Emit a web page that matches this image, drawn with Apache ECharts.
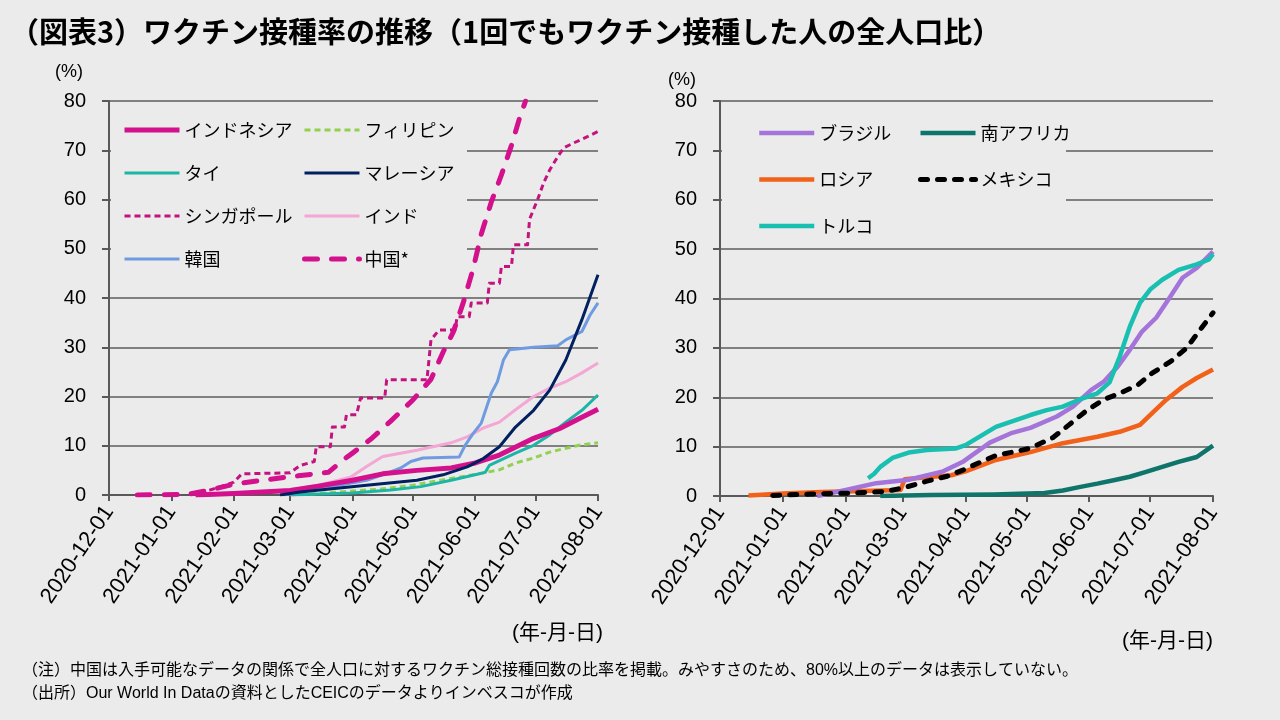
<!DOCTYPE html>
<html><head><meta charset="utf-8">
<script src="https://cdn.jsdelivr.net/npm/echarts@6/dist/echarts.min.js"></script>
<style>html,body{margin:0;padding:0;background:#EBEBEB;}#c{width:1280px;height:720px;}</style>
</head><body><div id="c"></div>
<script>
// ---------- data (values in % of population) ----------
const xStart = '2020-12-01';
const xEnd = '2021-08-01';
const yMax = 80, yStep = 10;

const indonesia = [['2021-01-13',0],['2021-02-01',0.3],['2021-03-01',0.9],['2021-03-15',1.8],['2021-04-01',3.0],['2021-04-16',4.3],['2021-05-03',5.0],['2021-05-20',5.5],['2021-06-01',6.5],['2021-06-13',8.1],['2021-06-30',11.5],['2021-07-13',13.5],['2021-07-23',15.6],['2021-08-01',17.4]];
const philippines = [['2021-03-01',0],['2021-03-15',0.3],['2021-04-01',0.8],['2021-04-15',1.2],['2021-05-01',2.0],['2021-05-15',3.0],['2021-06-01',4.2],['2021-06-13',5.1],['2021-06-21',6.5],['2021-06-30',7.5],['2021-07-08',8.7],['2021-07-16',9.5],['2021-07-24',10.2],['2021-08-01',10.6]];
const thailand = [['2021-03-01',0],['2021-04-01',0.4],['2021-04-20',1.0],['2021-05-05',1.7],['2021-05-20',3.0],['2021-06-02',4.2],['2021-06-06',4.6],['2021-06-08',6.0],['2021-06-21',8.5],['2021-06-30',10.1],['2021-07-08',12.2],['2021-07-16',14.8],['2021-07-24',17.2],['2021-08-01',20.3]];
const malaysia = [['2021-02-24',0],['2021-03-06',0.6],['2021-04-08',2.0],['2021-05-03',3.0],['2021-05-16',4.1],['2021-05-28',5.7],['2021-06-05',7.4],['2021-06-13',9.8],['2021-06-21',13.8],['2021-06-30',17.2],['2021-07-08',21.3],['2021-07-16',27.4],['2021-07-24',35.6],['2021-08-01',44.7]];
const singapore = [['2021-01-10',0.3],['2021-01-20',1.0],['2021-01-28',2.0],['2021-02-01',2.6],['2021-02-05',4.3],['2021-03-01',4.5],['2021-03-06',6.0],['2021-03-13',6.8],['2021-03-14',9.8],['2021-03-21',9.8],['2021-03-22',13.8],['2021-03-28',13.8],['2021-03-29',16.3],['2021-04-03',16.3],['2021-04-05',19.7],['2021-04-17',19.7],['2021-04-18',23.4],['2021-05-08',23.4],['2021-05-10',31.5],['2021-05-14',33.5],['2021-05-22',33.5],['2021-05-23',36.2],['2021-05-29',36.2],['2021-05-30',39.0],['2021-06-07',39.0],['2021-06-08',43.0],['2021-06-13',43.0],['2021-06-14',46.4],['2021-06-19',46.4],['2021-06-20',50.8],['2021-06-27',50.8],['2021-06-28',56.0],['2021-07-02',60.0],['2021-07-05',63.4],['2021-07-08',66.0],['2021-07-12',68.7],['2021-07-15',70.5],['2021-07-20',71.5],['2021-07-27',72.8],['2021-08-01',73.8]];
const india = [['2021-01-16',0],['2021-02-01',0.3],['2021-03-01',1.0],['2021-03-15',2.0],['2021-03-31',3.6],['2021-04-08',5.8],['2021-04-16',7.8],['2021-05-03',9.1],['2021-05-20',10.6],['2021-05-28',11.8],['2021-06-05',13.6],['2021-06-13',14.8],['2021-06-21',17.3],['2021-06-30',20.0],['2021-07-08',21.7],['2021-07-16',23.0],['2021-07-24',24.8],['2021-08-01',26.8]];
const korea = [['2021-02-26',0],['2021-03-08',0.8],['2021-03-22',1.7],['2021-04-08',3.0],['2021-04-18',4.4],['2021-04-25',5.5],['2021-04-30',6.8],['2021-05-06',7.5],['2021-05-24',7.7],['2021-05-27',10.1],['2021-05-31',12.5],['2021-06-04',14.6],['2021-06-09',20.7],['2021-06-12',23.0],['2021-06-15',27.4],['2021-06-18',29.5],['2021-06-30',30.0],['2021-07-12',30.3],['2021-07-16',31.5],['2021-07-24',33.2],['2021-07-28',36.5],['2021-08-01',39.0]];
const china = [['2020-12-15',0],['2021-01-09',0.1],['2021-01-20',1.0],['2021-02-01',2.2],['2021-02-15',3.0],['2021-03-05',3.9],['2021-03-20',4.6],['2021-03-27',7.0],['2021-04-01',8.5],['2021-04-10',11.3],['2021-04-20',15.0],['2021-05-01',19.3],['2021-05-10',23.5],['2021-05-16',29.0],['2021-05-21',33.0],['2021-05-26',39.0],['2021-05-31',46.0],['2021-06-04',53.0],['2021-06-09',59.5],['2021-06-14',65.0],['2021-06-19',71.0],['2021-06-23',76.5],['2021-06-26',80.0]];

const brazil = [['2021-01-18',0],['2021-01-25',0.6],['2021-02-01',1.2],['2021-02-16',2.6],['2021-03-04',3.3],['2021-03-21',5.0],['2021-03-31',7.0],['2021-04-13',10.8],['2021-04-24',12.8],['2021-05-03',13.8],['2021-05-16',16.1],['2021-05-24',18.1],['2021-06-02',21.5],['2021-06-08',23.1],['2021-06-15',26.2],['2021-06-21',29.6],['2021-06-27',33.3],['2021-07-04',36.1],['2021-07-11',40.4],['2021-07-17',44.2],['2021-07-24',46.2],['2021-08-01',49.5]];
const southAfrica = [['2021-02-18',0],['2021-03-15',0.2],['2021-04-15',0.3],['2021-05-10',0.6],['2021-05-19',1.1],['2021-05-27',1.8],['2021-06-05',2.5],['2021-06-13',3.2],['2021-06-21',3.9],['2021-06-29',4.9],['2021-07-07',5.9],['2021-07-15',6.9],['2021-07-24',7.9],['2021-08-01',10.2]];
const russia = [['2020-12-15',0.1],['2021-01-01',0.5],['2021-01-20',0.8],['2021-02-10',1.0],['2021-02-28',1.2],['2021-03-02',3.4],['2021-03-10',3.7],['2021-03-25',4.2],['2021-04-01',5.0],['2021-04-16',7.3],['2021-05-03',8.9],['2021-05-19',10.7],['2021-06-05',12.0],['2021-06-16',13.0],['2021-06-26',14.4],['2021-07-02',16.8],['2021-07-09',19.5],['2021-07-17',22.1],['2021-07-24',23.9],['2021-08-01',25.6]];
const mexico = [['2020-12-27',0.1],['2021-01-15',0.4],['2021-02-05',0.6],['2021-02-20',0.9],['2021-03-01',1.6],['2021-03-13',3.0],['2021-03-23',4.0],['2021-03-31',5.3],['2021-04-08',6.8],['2021-04-16',8.2],['2021-04-28',9.2],['2021-05-03',9.7],['2021-05-14',11.8],['2021-05-22',14.4],['2021-05-31',17.4],['2021-06-08',19.5],['2021-06-16',20.8],['2021-06-25',22.5],['2021-07-02',24.9],['2021-07-11',27.2],['2021-07-19',30.0],['2021-07-25',33.3],['2021-08-01',37.1]];
const turkey = [['2021-02-12',3.6],['2021-02-15',4.5],['2021-02-18',5.9],['2021-02-24',7.7],['2021-03-04',8.8],['2021-03-13',9.3],['2021-03-27',9.6],['2021-04-01',10.3],['2021-04-16',14.0],['2021-05-03',16.4],['2021-05-11',17.4],['2021-05-19',18.1],['2021-05-27',19.5],['2021-06-05',20.8],['2021-06-11',23.0],['2021-06-16',28.2],['2021-06-21',34.3],['2021-06-26',39.1],['2021-07-01',41.8],['2021-07-07',43.8],['2021-07-15',45.8],['2021-07-24',46.9],['2021-07-30',47.9],['2021-08-01',49.0]];

const titleText = '（図表3）ワクチン接種率の推移（1回でもワクチン接種した人の全人口比）';
const note1 = '（注）中国は入手可能なデータの関係で全人口に対するワクチン総接種回数の比率を掲載。みやすさのため、80%以上のデータは表示していない。';
const note2 = '（出所）Our World In Dataの資料としたCEICのデータよりインベスコが作成';

// ---------- chart ----------
const BG = '#EBEBEB';
const toT = s => { const p = s.split('-').map(Number); return new Date(p[0], p[1]-1, p[2]).getTime(); };
const conv = arr => arr.map(d => [toT(d[0]), d[1]]);
const DAY = 86400000;

function mk(name, data, color, width, dash, gi, cap, z) {
  return { name, type: 'line', xAxisIndex: gi, yAxisIndex: gi, data: conv(data),
    symbol: 'none', showSymbol: false, silent: true, z: z || 2,
    lineStyle: { color, width, type: dash || 'solid', cap: cap || 'butt', join: 'round' },
    itemStyle: { color } };
}

const xAxisBase = (gi) => ({
  type: 'time', gridIndex: gi, min: toT(xStart), max: toT(xEnd),
  splitNumber: 8, minInterval: 28 * DAY, maxInterval: 31 * DAY,
  axisLine: { lineStyle: { color: '#595959', width: 2 } },
  axisTick: { show: true, length: 6, lineStyle: { color: '#595959', width: 2 } },
  splitLine: { show: false },
  axisLabel: { rotate: 56, margin: 13, fontSize: 22, color: '#000', fontFamily: 'Liberation Sans',
    showMinLabel: true, showMaxLabel: true, hideOverlap: false,
    formatter: v => echarts.time.format(v, '{yyyy}-{MM}-{dd}', false) }
});
const yAxisBase = (gi) => ({
  type: 'value', gridIndex: gi, min: 0, max: yMax, interval: yStep,
  axisLine: { show: true, lineStyle: { color: '#595959', width: 2 } },
  axisTick: { show: true, length: 7, lineStyle: { color: '#595959', width: 2 } },
  splitLine: { show: true, lineStyle: { color: '#808080', width: 2 } },
  axisLabel: { margin: 23, fontSize: 20, color: '#000', fontFamily: 'Liberation Sans' }
});

const legText = { fontSize: 18, lineHeight: 22, color: '#000', fontFamily: 'Noto Sans CJK JP' };
const legBase = { orient: 'vertical', itemWidth: 55, itemHeight: 14, padding: 0, selectedMode: false,
  textStyle: legText, z: 10, itemStyle: { opacity: 0, borderWidth: 0 },
  lineStyle: { width: 'inherit', type: 'inherit', color: 'inherit', cap: 'inherit', opacity: 1 } };

const option = {
  backgroundColor: BG,
  animation: false,
  grid: [
    { left: 109, top: 101, width: 489, height: 394 },
    { left: 720, top: 101, width: 493, height: 395 }
  ],
  xAxis: [xAxisBase(0), xAxisBase(1)],
  yAxis: [yAxisBase(0), yAxisBase(1)],
  legend: [
    Object.assign({}, legBase, { left: 122, top: 119, itemGap: 21, data: ['インドネシア', 'タイ', 'シンガポール', '韓国'] }),
    Object.assign({}, legBase, { left: 302, top: 119, itemGap: 21, data: ['フィリピン', 'マレーシア', 'インド', '中国*'] }),
    Object.assign({}, legBase, { left: 757, top: 122, itemGap: 24.5, data: ['ブラジル', 'ロシア', 'トルコ'] }),
    Object.assign({}, legBase, { left: 918, top: 122, itemGap: 24.5, data: ['南アフリカ', 'メキシコ'] })
  ],
  series: [
    mk('フィリピン', philippines, '#92D050', 3, [6, 4], 0),
    mk('タイ', thailand, '#1DB5A6', 3, 'solid', 0),
    mk('インド', india, '#F4A6D4', 3, 'solid', 0),
    mk('韓国', korea, '#6F9BE0', 3, 'solid', 0),
    mk('インドネシア', indonesia, '#D4118C', 5, 'solid', 0),
    mk('マレーシア', malaysia, '#002060', 3, 'solid', 0, 'butt', 3),
    mk('シンガポール', singapore, '#C4137F', 3, [6, 4], 0),
    mk('中国*', china, '#D4118C', 5, [13, 14], 0, 'round'),
    mk('南アフリカ', southAfrica, '#0F756B', 4.5, 'solid', 1),
    mk('ロシア', russia, '#F26119', 4.5, 'solid', 1),
    mk('ブラジル', brazil, '#A474DB', 4.5, 'solid', 1),
    mk('トルコ', turkey, '#19BFB1', 4.5, 'solid', 1),
    mk('メキシコ', mexico, '#000000', 5, [7, 10], 1, 'round', 3)
  ],
  graphic: { elements: [
    { type: 'rect', shape: { x: 111, y: 106, width: 356, height: 170 }, style: { fill: BG }, z: 5, silent: true },
    { type: 'rect', shape: { x: 722, y: 106, width: 344, height: 138 }, style: { fill: BG }, z: 5, silent: true },
    { type: 'text', left: 10, top: 17, z: 20, style: { text: titleText, font: 'bold 29px "Noto Sans CJK JP"', fill: '#000' } },
    { type: 'text', left: 55, top: 63, z: 20, style: { text: '(%)', font: '18px "Liberation Sans"', fill: '#000' } },
    { type: 'text', left: 668, top: 71, z: 20, style: { text: '(%)', font: '18px "Liberation Sans"', fill: '#000' } },
    { type: 'text', left: 512, top: 623, z: 20, style: { text: '(年-月-日)', font: '21px "Liberation Sans", "Noto Sans CJK JP"', fill: '#000' } },
    { type: 'text', left: 1122, top: 631, z: 20, style: { text: '(年-月-日)', font: '21px "Liberation Sans", "Noto Sans CJK JP"', fill: '#000' } },
    { type: 'text', left: 22, top: 663, z: 20, style: { text: note1, font: '16px "Liberation Sans", "Noto Sans CJK JP"', fill: '#000' } },
    { type: 'text', left: 22, top: 686, z: 20, style: { text: note2, font: '16px "Liberation Sans", "Noto Sans CJK JP"', fill: '#000' } }
  ] }
};

const chart = echarts.init(document.getElementById('c'), null, { renderer: 'canvas', width: 1280, height: 720 });
chart.setOption(option);
</script>
</body></html>
